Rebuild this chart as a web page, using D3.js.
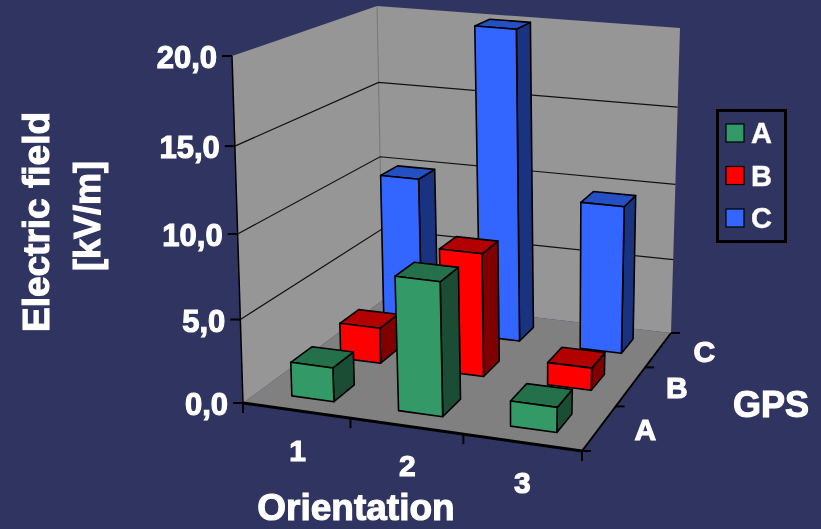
<!DOCTYPE html>
<html>
<head>
<meta charset="utf-8">
<script src="https://cdn.jsdelivr.net/npm/d3@7"></script>
<style>
  html, body { margin: 0; padding: 0; background: #2f3560; }
  svg { display: block; }
  text { font-family: "Liberation Sans", Arial, sans-serif; font-weight: bold; fill: #fff; stroke: #fff; stroke-width: 1.1px; filter: url(#soft); }
</style>
</head>
<body>
<svg id="chart" width="821" height="529">
  <defs><filter id="soft"><feGaussianBlur stdDeviation="0.45"></feGaussianBlur></filter></defs>
</svg>
<script>
// values
var orientations = ['1', '2', '3'];
var gpsRows = ['A', 'B', 'C'];
var valuesA = [2.05, 8.0, 1.5];
var valuesB = [2.25, 7.7, 1.4];
var valuesC = [10.0, 20.0, 9.55];
var valueTicks = [0, 5, 10, 15, 20];

var svg = d3.select('#chart');

var colors = {
    A: { front: '#339966', top: '#24704a', side: '#1a4d33' },
    B: { front: '#ff0000', top: '#b30000', side: '#800000' },
    C: { front: '#3366ff', top: '#2450c4', side: '#1a3380' }
};

// unit square -> quad, corners: front left, front right, back right, back left
var quadMap = function(q) {
    var sx = q[0][0] - q[1][0] + q[2][0] - q[3][0],
        sy = q[0][1] - q[1][1] + q[2][1] - q[3][1],
        dx1 = q[1][0] - q[2][0], dx2 = q[3][0] - q[2][0],
        dy1 = q[1][1] - q[2][1], dy2 = q[3][1] - q[2][1],
        det = dx1 * dy2 - dx2 * dy1,
        g = (sx * dy2 - dx2 * sy) / det,
        h = (dx1 * sy - sx * dy1) / det,
        a = q[1][0] - q[0][0] + g * q[1][0],
        b = q[3][0] - q[0][0] + h * q[3][0],
        d = q[1][1] - q[0][1] + g * q[1][1],
        e = q[3][1] - q[0][1] + h * q[3][1];
    return function(u, v) {
        var w = g * u + h * v + 1;
        return [(a * u + b * v + q[0][0]) / w, (d * u + e * v + q[0][1]) / w];
    };
};

var floorMap = quadMap([[243, 403], [582, 451], [671, 333], [383, 300]]);
var roofMap = quadMap([[232, 56], [592, 93], [680, 28], [377, 6]]);

var xBand = d3.scaleBand().domain(orientations).range([0.006, 1]).paddingInner(0.6).paddingOuter(0.3);
var zBand = d3.scaleBand().domain(gpsRows).range([0, 1]).paddingInner(0.58).paddingOuter(0.29);
var yScale = d3.scaleLinear().domain([0, 20]).range([0, 1]);

// heights shrink a little going up, perspective again
var project = function(u, v, val) {
    var b = floorMap(u, v), t = roofMap(u, v), k = yScale(val);
    k = k * 0.95 / (1 - 0.05 * k);
    return [b[0] + (t[0] - b[0]) * k, b[1] + (t[1] - b[1]) * k];
};

var line = d3.line();
var polygon = function(pts) { return line(pts) + 'Z'; };

// walls and floor
svg.append('path').attr('fill', '#969696')
    .attr('d', polygon([project(0, 0, 0), project(0, 0, 20), project(0, 1, 20), project(0, 1, 0)]));
svg.append('path').attr('fill', '#969696')
    .attr('d', polygon([project(0, 1, 0), project(0, 1, 20), project(1, 1, 20), project(1, 1, 0)]));
svg.append('path').attr('fill', '#808080')
    .attr('d', polygon([project(0, 0, 0), project(1, 0, 0), project(1, 1, 0), project(0, 1, 0)]));
svg.append('path').attr('stroke', '#7a7a7a').attr('stroke-width', 1).attr('fill', 'none')
    .attr('d', line([project(0, 1, 0), project(0, 1, 20)]));

// gridlines
svg.append('g').selectAll('path')
    .data(valueTicks.filter(function(d) { return d > 0 && d < 20; }))
    .enter()
    .append('path')
    .attr('fill', 'none')
    .attr('stroke', '#111')
    .attr('stroke-width', 1.2)
    .attr('d', function(d) {
        return line([project(0, 0, d), project(0, 1, d), project(1, 1, d)]);
    });

// axes
var axisGroup = svg.append('g').attr('fill', 'none').attr('stroke', '#000');
axisGroup.append('path').attr('stroke-width', 1.5)
    .attr('d', line([project(0, 0, 0), project(0, 0, 20)]));
axisGroup.append('path').attr('stroke-width', 3)
    .attr('d', line([project(0, 0, 0), project(1, 0, 0)]));
axisGroup.append('path').attr('stroke-width', 2)
    .attr('d', line([project(1, 0, 0), project(1, 1, 0)]));

valueTicks.forEach(function(d) {
    var p = project(0, 0, d);
    axisGroup.append('path').attr('stroke-width', 2).attr('d', line([[p[0] - 10, p[1]], [p[0], p[1]]]));
    svg.append('text')
        .attr('x', p[0] - 15)
        .attr('y', p[1] + 12)
        .attr('text-anchor', 'end')
        .style('font-size', '31px')
        .text(d3.format('.1f')(d).replace('.', ','));
});

d3.range(orientations.length + 1).forEach(function(i) {
    var p = project(i / orientations.length, 0, 0);
    axisGroup.append('path').attr('stroke-width', 2).attr('d', line([[p[0], p[1]], [p[0], p[1] + 10]]));
});

d3.range(gpsRows.length + 1).forEach(function(i) {
    var p = project(1, i / gpsRows.length, 0);
    axisGroup.append('path').attr('stroke-width', 2).attr('d', line([[p[0], p[1]], [p[0] + 9, p[1]]]));
});

orientations.forEach(function(d) {
    var p = project(xBand(d) + xBand.bandwidth() / 2, 0, 0);
    svg.append('text')
        .attr('x', p[0])
        .attr('y', p[1] + 50)
        .attr('text-anchor', 'middle')
        .style('font-size', '30px')
        .text(d);
});

gpsRows.forEach(function(d) {
    var p = project(1, zBand(d) + zBand.bandwidth() / 2, 0);
    svg.append('text')
        .attr('x', p[0] + 46)
        .attr('y', p[1] + 12)
        .attr('text-anchor', 'middle')
        .style('font-size', '30px')
        .text(d);
});

// bars, back row first
var series = { A: valuesA, B: valuesB, C: valuesC };
var barData = [];
gpsRows.slice().reverse().forEach(function(row) {
    orientations.forEach(function(cat, i) {
        barData.push({ row: row, cat: cat, value: series[row][i] });
    });
});

var bars = svg.append('g').selectAll('g')
    .data(barData)
    .enter()
    .append('g')
    .attr('stroke', '#000')
    .attr('stroke-width', 1.6)
    .attr('stroke-linejoin', 'round');

var faces = function(d) {
    var u0 = xBand(d.cat), u1 = u0 + xBand.bandwidth(),
        v0 = zBand(d.row), v1 = v0 + zBand.bandwidth(), h = d.value;
    return [
        { fill: colors[d.row].side, pts: [project(u1, v0, 0), project(u1, v1, 0), project(u1, v1, h), project(u1, v0, h)] },
        { fill: colors[d.row].top, pts: [project(u0, v0, h), project(u1, v0, h), project(u1, v1, h), project(u0, v1, h)] },
        { fill: colors[d.row].front, pts: [project(u0, v0, 0), project(u1, v0, 0), project(u1, v0, h), project(u0, v0, h)] }
    ];
};

bars.selectAll('path')
    .data(faces)
    .enter()
    .append('path')
    .attr('fill', function(d) { return d.fill; })
    .attr('d', function(d) { return polygon(d.pts); });

// titles
svg.append('text').attr('x', 356).attr('y', 520).attr('text-anchor', 'middle')
    .style('font-size', '37px').text('Orientation');
svg.append('text').attr('x', 771).attr('y', 417).attr('text-anchor', 'middle')
    .style('font-size', '36px').text('GPS');
svg.append('text').attr('transform', 'translate(49,222) rotate(-90)').attr('text-anchor', 'middle')
    .style('font-size', '37px').text('Electric field');
svg.append('text').attr('transform', 'translate(100,216) rotate(-90)').attr('text-anchor', 'middle')
    .style('font-size', '36px').text('[kV/m]');

// legend
var legend = svg.append('g');
legend.append('rect')
    .attr('x', 717.5).attr('y', 110.5).attr('width', 68).attr('height', 131)
    .attr('fill', 'none').attr('stroke', '#000').attr('stroke-width', 3);

var legendY = d3.scalePoint().domain(gpsRows).range([133, 218]);
gpsRows.forEach(function(d) {
    legend.append('rect')
        .attr('x', 726).attr('y', legendY(d) - 9).attr('width', 18).attr('height', 18)
        .attr('fill', colors[d].front).attr('stroke', '#000').attr('stroke-width', 1.2);
    legend.append('text')
        .attr('x', 751).attr('y', legendY(d) + 10)
        .style('font-size', '29px').style('stroke-width', '0.4px').text(d);
});
</script>
</body>
</html>
